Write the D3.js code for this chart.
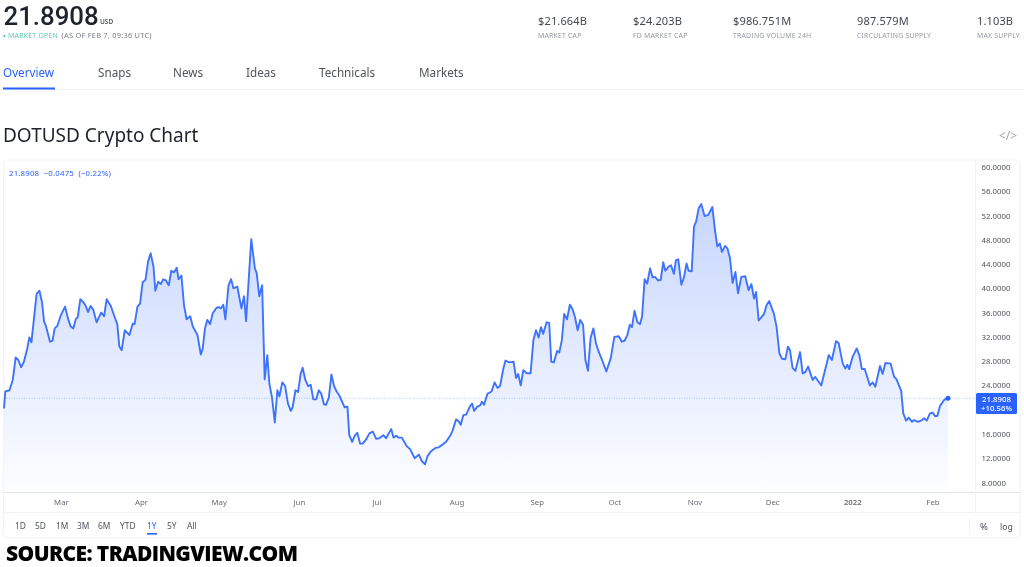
<!DOCTYPE html>
<html><head><meta charset="utf-8">
<script src="https://cdn.jsdelivr.net/npm/d3@7/dist/d3.min.js"></script>
<style>
html,body{margin:0;padding:0;background:#fff;overflow:hidden}
svg{display:block;filter:blur(0.4px)}
text{font-family:"Noto Sans",sans-serif}
</style></head><body><svg id="c" width="1024" height="567"></svg>
<script>
// Days since 2021-02-07 and DOTUSD price
const dayOffsets=[0,0.5,2.1,3.4,4.5,5.5,6.6,7.7,9,9.8,10.6,12.6,13.7,14.7,15.5,16.2,17.8,18.8,19.6,20.6,22,23.6,24.9,25.8,26.8,27.8,28.5,29.5,30.7,31.7,32.5,33.5,34.5,35.8,37.1,37.6,38.7,39.7,41.3,42.5,43.8,44.6,45.5,46.7,48.5,49.8,50.5,51.6,52.6,53.6,54.7,55.7,56.7,57.8,58.5,59.6,60.6,61.6,62.6,63.7,64.7,65.7,66.8,67.5,68.6,69.6,70.6,72,73,74.8,76.1,76.8,77.7,78.6,79.7,80.7,82.2,83,83.8,84.8,85.6,86.8,87.8,88.7,90.2,91.8,92.8,93.6,95.6,97,97.7,98.7,99.8,
100.8,101.8,102.6,103.6,104.7,105.7,106.5,107.6,108.7,109.8,110.9,111.6,112.7,113.7,114.7,115.5,116.5,117.6,118.6,119.6,120.7,121.7,122.7,123.7,124.5,125.6,126.6,127.6,128.6,129.7,131.7,132.8,133.5,134.6,135.6,136.6,137.7,138.7,140,141.3,142.6,143.9,145.1,146.7,147.7,149.7,150.6,151.6,152.6,153.8,155.7,157,158.8,160.4,161.6,162.8,163.7,165,166.8,168.1,169.4,170.9,172.5,173.5,174.8,175.8,176.6,177.6,178.7,180.2,181,181.8,183,184.1,184.8,185.6,186.9,188.5,189.7,190.8,191.8,193.1,193.9,195.4,197,198,198.8,199.8,
200.8,202.1,203.6,204.7,205.7,206.7,207.6,208.5,209.8,210.8,211.6,212.6,213.9,214.7,215.7,216.6,217.7,218.8,219.9,220.8,221.8,222.8,223.9,224.8,225.8,226.8,227.9,228.9,229.9,231.5,232.9,234.6,236,237.7,238.9,240,241,242,242.8,243.8,244.9,245.9,246.7,247.7,248.7,249.8,250.8,251.7,252.9,253.9,254.9,255.7,257,257.9,259,259.8,260.7,261.9,262.9,263.9,264.7,265.9,266.8,267.6,268.6,269.6,270.9,272.3,273.9,274.9,275.8,276.8,277.6,278.8,279.7,280.7,281.7,282.8,283.8,285.1,286.6,287.9,289,290,290.8,291.8,
293.9,294.9,295.9,297.7,298.7,299.8,300.8,302.1,303.1,303.9,304.9,306,307.8,308.8,309.8,310.9,312.7,313.7,316,318.9,320.1,321.7,322.7,324.3,325.3,326.1,326.8,328.1,329.7,330.7,331.7,332.8,334.8,335.9,336.9,338.7,339.7,340.8,342.8,344.1,345.1,346.9,347.7,348.8,349.8,351.1,351.9,353.4,355,355.7,356.8,358,359.1,360.1,360.9,361.9,363.5,365];
const closePrices=[20.2,23,23.2,24.9,28.6,28.2,27,27.9,30.1,31.9,31.1,39.1,39.6,37.7,34.5,33.8,31.2,31.4,33.4,33.8,35.6,37,34.8,33.7,33.4,35,35.2,38.2,37.7,37,36.1,37.1,36.5,34.4,35.6,36,35.4,38.2,37.1,35.6,34.1,30.4,29.8,33.1,32.3,34.2,34.1,37,37.5,41,41.4,44.4,45.8,43.6,39.6,41.1,40.7,41.5,41.3,40.5,42.9,42.6,43.4,41.5,42.1,37.2,34.9,35.4,33.7,32.3,29.1,30,33.4,34.8,34.1,35.9,36.8,36.9,36.7,37.3,34.9,40.5,41.5,40,40.3,36.7,38.7,34.6,48.1,43.3,42.5,38.7,40.5,
25,29,24.3,22.1,17.9,23.2,22.2,24.5,23.9,21,19.8,20.4,23.2,22.9,25.9,26.9,24.9,23.9,24.1,21.7,21.7,23.2,22.6,20.9,20.8,22,25.8,23.9,23,22.3,20.4,20.5,15.8,14.7,15.7,16.2,14.4,14.4,15.1,16.1,16.4,15.2,15.3,15.8,15.3,16.8,15.4,15.7,15.4,15.4,14,13.5,12,12.6,11.5,11,12.3,13.1,13.7,13.8,14.2,14.7,15.7,16.6,18.4,18.1,17.5,19.1,19.2,20.6,21,19.8,20.5,20.7,21.3,20.8,22.6,23,24.5,23.6,23.9,26.8,28.1,27.8,27.9,25.2,25.9,24,
26.5,26,26,31.5,33.1,31.9,33.6,32.5,34.4,34.3,27.9,27.8,29.7,29.4,31.5,35.8,34.9,37.3,36.5,35.2,33.1,34.8,34,28.2,26.4,31.8,33.4,30.9,29.6,27.9,26.3,28.5,32,32.1,31.2,31.4,32.3,34,33.6,36.3,34.4,34.1,35.3,41.5,40.8,43.3,41.8,41.9,41.3,41.4,44.3,42.9,43.6,43.8,42.4,44.6,44.8,40.6,41.8,44.1,42.9,42.8,50.2,51,53.2,53.9,51.9,52.1,53.4,49.6,46.9,47.4,46,47,46.6,45,40.9,42.7,39.2,41.9,42,39.7,40.7,38.3,39.4,34.7,
35.8,37.3,37.9,35.8,33.7,29.3,28.4,28.3,30.4,29.8,26.9,26.4,29.5,26,26.2,27.1,24.9,25.4,24,29,28.2,31.3,31,27.6,26.8,27.4,26.7,28.7,30.1,29,26.7,26.7,24,24.5,23.8,27.2,25.9,27.7,27.6,25.5,25,23.1,19.4,18.2,18.7,18,18.3,18,18.3,18.6,18.2,19.4,19.5,18.9,19,20.6,21.6,21.89];
const priceTicks=[60,56,52,48,44,40,36,32,28,24,16,12,8];
const monthTicks=[[2021,2,"Mar"],[2021,3,"Apr"],[2021,4,"May"],[2021,5,"Jun"],[2021,6,"Jul"],[2021,7,"Aug"],[2021,8,"Sep"],[2021,9,"Oct"],[2021,10,"Nov"],[2021,11,"Dec"],[2022,0,"2022"],[2022,1,"Feb"]];
const lastPrice=21.8908;
const tabs=["Overview","Snaps","News","Ideas","Technicals","Markets"];
const tabX=[3,98,173,246,319,419];
const stats=[["$21.664B","MARKET CAP"],["$24.203B","FD MARKET CAP"],["$986.751M","TRADING VOLUME 24H"],["987.579M","CIRCULATING SUPPLY"],["1.103B","MAX SUPPLY"]];
const statX=[538,633,733,857,977];
const ranges=["1D","5D","1M","3M","6M","YTD","1Y","5Y","All"];
const rangeX=[15,35,56,77,98,120,147,167,187];

const svg=d3.select("#c");
const BLUE="#2962ff",DARK="#1e222d",GRAY="#787b86",LINE="#f0f3fa";
const T=(x,y,s,size,fill,o={})=>svg.append("text").attr("x",x).attr("y",y).text(s).attr("font-size",size).attr("fill",fill)
  .attr("font-weight",o.w||400).attr("text-anchor",o.a||"start").attr("letter-spacing",o.ls||0).style("font-family",o.f||null);

// header
T(3.5,24.5,"21.8908",25.8,DARK,{w:500,f:'Roboto,sans-serif'});
T(100,24,"USD",6.5,"#50535e",{w:600});
T(3,38.5,"•",7,"#22ab94");
T(8,38,"MARKET OPEN",6.9,"#5fc9ac",{ls:0.25});
T(61.5,38,"(AS OF FEB 7, 09:36 UTC)",7.4,GRAY,{ls:0.25});
stats.forEach((d,i)=>{T(statX[i],25,d[0],11,"#434651",{ls:0.15});T(statX[i],38,d[1],6.9,"#9598a1",{ls:0.2});});
tabs.forEach((t,i)=>T(tabX[i],77,t,11.7,i?"#50535e":BLUE));
svg.append("rect").attr("x",0).attr("y",89).attr("width",1024).attr("height",1.3).attr("fill",LINE);
svg.append("rect").attr("x",3).attr("y",87.5).attr("width",52).attr("height",2).attr("fill",BLUE);
T(3,142,"DOTUSD Crypto Chart",19,DARK);
T(999,139.5,"</>",12,"#a3a6af");

// card frame
svg.append("rect").attr("x",3.5).attr("y",160).attr("width",1016.5).attr("height",378).attr("rx",4).attr("fill","#fff").attr("stroke",LINE).attr("stroke-width",1.2);

// scales
const t0=Date.UTC(2021,1,7),DAY=864e5;
const x=d3.scaleUtc().domain([new Date(t0),new Date(t0+365*DAY)]).range([4,948]);
const y=d3.scaleLinear().domain([8,60]).range([482.5,167]);
const data=dayOffsets.map((d,i)=>({t:new Date(t0+d*DAY),v:closePrices[i]}));

const grad=svg.append("defs").append("linearGradient").attr("id","g").attr("gradientUnits","userSpaceOnUse")
  .attr("x1",0).attr("x2",0).attr("y1",y(54)).attr("y2",492);
grad.append("stop").attr("offset",0).attr("stop-color",BLUE).attr("stop-opacity",0.26);
grad.append("stop").attr("offset",1).attr("stop-color",BLUE).attr("stop-opacity",0.01);

svg.append("path").datum(data).attr("fill","url(#g)")
  .attr("d",d3.area().x(d=>x(d.t)).y0(492).y1(d=>y(d.v)));
svg.append("line").attr("x1",4).attr("x2",975).attr("y1",y(lastPrice)).attr("y2",y(lastPrice))
  .attr("stroke",BLUE).attr("stroke-opacity",0.45).attr("stroke-width",0.8).attr("stroke-dasharray","1 1.5");
svg.append("path").datum(data).attr("fill","none").attr("stroke","#3f73fb").attr("stroke-width",1.9).attr("stroke-linejoin","round")
  .attr("d",d3.line().x(d=>x(d.t)).y(d=>y(d.v)));
svg.append("circle").attr("cx",x(data[data.length-1].t)).attr("cy",y(lastPrice)).attr("r",2.5).attr("fill",BLUE);

// frame lines
svg.append("line").attr("x1",4).attr("x2",1020).attr("y1",492.5).attr("y2",492.5).attr("stroke","#e4e6ec");
svg.append("line").attr("x1",4).attr("x2",1020).attr("y1",512.5).attr("y2",512.5).attr("stroke",LINE);
svg.append("line").attr("x1",975.5).attr("x2",975.5).attr("y1",160).attr("y2",512).attr("stroke",LINE);
svg.append("line").attr("x1",969.5).attr("x2",969.5).attr("y1",518).attr("y2",533).attr("stroke",LINE);

// axes
const ya=svg.append("g").attr("transform","translate(975.5,0)")
  .call(d3.axisRight(y).tickValues(priceTicks).tickFormat(d3.format(".4f")).tickSize(0).tickPadding(6));
ya.select(".domain").remove();
ya.selectAll("text").attr("font-size",7.8).attr("fill","#50535e").style("font-family",'"Noto Sans",sans-serif');

const xa=svg.append("g").attr("transform","translate(0,492.5)")
  .call(d3.axisBottom(x).tickValues(monthTicks.map(m=>new Date(Date.UTC(m[0],m[1],1))))
    .tickFormat((d,i)=>monthTicks[i][2]).tickSize(0).tickPadding(7));
xa.select(".domain").remove();
xa.selectAll("text").attr("font-size",7.8).attr("fill","#6a6d78").style("font-family",'"Noto Sans",sans-serif')
  .attr("font-weight",(d,i)=>monthTicks[i][2]==="2022"?600:400);

// last price tag
svg.append("rect").attr("x",976).attr("y",393).attr("width",41).attr("height",21).attr("rx",1.5).attr("fill",BLUE);
T(996.5,401.5,d3.format(".4f")(lastPrice),7.8,"#fff",{a:"middle",w:500});
T(996.5,411,"+10.56%",7.8,"#fff",{a:"middle",w:500});
// legend
T(9,176,"21.8908  −0.0475  (−0.22%)",7.8,BLUE,{ls:0.2}).style("white-space","pre");

// range bar
ranges.forEach((r,i)=>T(rangeX[i],529,r,8.4,r==="1Y"?BLUE:"#50535e"));
svg.append("rect").attr("x",147).attr("y",533).attr("width",10).attr("height",1.6).attr("fill",BLUE);
T(980,530,"%",9.5,"#50535e");
T(1000,530,"log",8.6,"#50535e");

// source
T(6,561,"SOURCE: TRADINGVIEW.COM",21,"#000",{w:800,f:'"Open Sans",sans-serif',ls:-0.6});
</script></body></html>
